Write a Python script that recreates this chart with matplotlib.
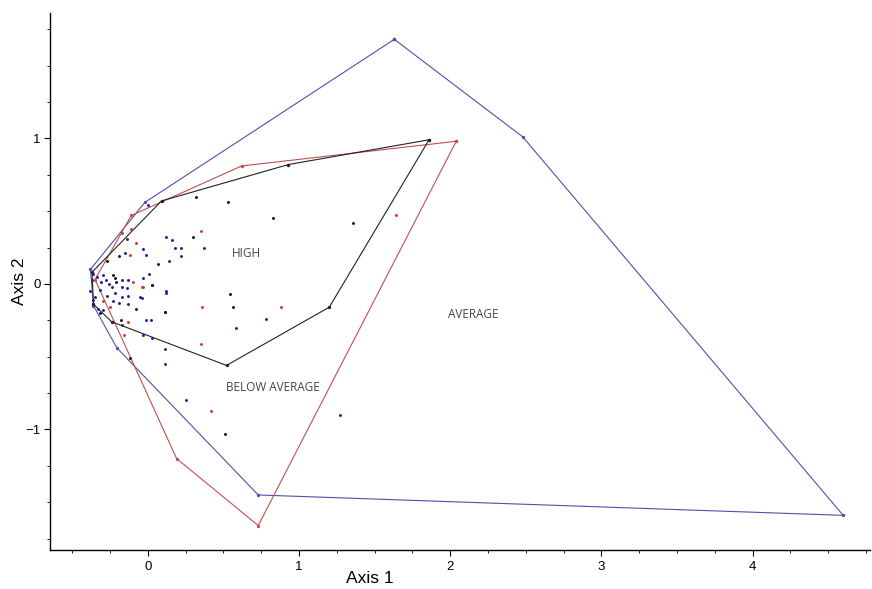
import numpy as np
import matplotlib.pyplot as plt
from matplotlib.ticker import MultipleLocator

# hull vertices (Axis 1, Axis 2) of each group, in drawing order
avg_hull_x = [1.63, 2.48, 4.60, 0.73, -0.205, -0.36, -0.38, -0.02]
avg_hull_y = [1.68, 1.01, -1.59, -1.45, -0.44, -0.15, 0.10, 0.56]
below_hull_x = [2.04, 0.73, 0.19, -0.35, -0.11, 0.62]
below_hull_y = [0.98, -1.66, -1.20, 0.03, 0.47, 0.81]
high_hull_x = [1.86, 1.20, 0.52, -0.24, -0.36, -0.37, 0.09, 0.93]
high_hull_y = [0.99, -0.16, -0.56, -0.26, -0.14, 0.08, 0.57, 0.82]

# sample scores
avg_x = [0.12, 0.16, 0.18, 0.22, 0.37, 0.22, 0.14, -0.03, -0.01, 0.01, -0.03, 0.03,
         0.12, 0.12, -0.04, 0.11, 0.78, 0.58, -0.01, 0.02, -0.03, 0.03, 0.11, 0.11,
         0.25, 1.27, 0.0, -0.14, -0.15, -0.36, -0.34, -0.37, -0.30, -0.28, -0.17,
         -0.13, -0.31, -0.26, -0.24, -0.32, -0.17, -0.14, -0.35, -0.27, -0.22, -0.17,
         -0.13, -0.05, -0.23, -0.19, -0.13, -0.33, -0.30, -0.17, -0.36, -0.38]
avg_y = [0.32, 0.30, 0.25, 0.25, 0.25, 0.19, 0.16, 0.24, 0.20, 0.07, 0.04, -0.01,
         -0.05, -0.06, -0.10, -0.19, -0.24, -0.30, -0.25, -0.25, -0.35, -0.37, -0.45,
         -0.55, -0.80, -0.90, 0.54, 0.31, 0.21, 0.07, 0.05, 0.03, 0.06, 0.03, 0.03,
         0.03, 0.01, 0.0, -0.02, -0.04, -0.02, -0.03, -0.09, -0.08, -0.06, -0.09,
         -0.08, -0.09, -0.12, -0.13, -0.14, -0.17, -0.18, -0.28, -0.11, -0.05]
below_x = [0.35, -0.03, 0.36, 0.88, 0.35, 0.42, 1.64, -0.11, -0.17, -0.08, -0.12,
           -0.10, -0.04, -0.30, -0.25, -0.13, -0.16]
below_y = [0.36, -0.02, -0.16, -0.16, -0.41, -0.87, 0.47, 0.38, 0.35, 0.28, 0.20,
           0.01, -0.02, -0.12, -0.16, -0.26, -0.35]
high_x = [0.32, 0.53, 0.83, 1.36, 0.30, 0.07, 0.54, 0.56, 0.51, -0.19, -0.27, -0.23,
          -0.22, -0.21, 0.03, -0.08, -0.32, -0.18, -0.12, 0.11]
high_y = [0.60, 0.56, 0.45, 0.42, 0.32, 0.14, -0.07, -0.16, -1.03, 0.19, 0.16, 0.06,
          0.04, 0.01, -0.01, -0.17, -0.20, -0.25, -0.51, -0.19]

blue = '#5050aa'
red = '#c0504d'
black = '#222222'

fig = plt.figure(figsize=(8.72, 5.89), dpi=100)
ax = fig.add_axes([0.0573, 0.0662, 0.940, 0.912])

for hx, hy, c in [(avg_hull_x, avg_hull_y, blue),
                  (below_hull_x, below_hull_y, red),
                  (high_hull_x, high_hull_y, black)]:
  ax.plot(hx + hx[:1], hy + hy[:1], color=c, lw=0.8, marker='o', ms=1.4)

ax.scatter(avg_x, avg_y, s=4.5, color='#1f1f9a', zorder=3, linewidths=0)
ax.scatter(below_x, below_y, s=4.5, color='#d03a2a', zorder=3, linewidths=0)
ax.scatter(high_x, high_y, s=4.5, color='#111111', zorder=3, linewidths=0)

lab = dict(fontsize=8.5, color='#444444', ha='center', va='center', family='Open Sans')
ax.text(0.65, 0.21, 'HIGH', **lab)
ax.text(2.15, -0.21, 'AVERAGE', **lab)
ax.text(0.83, -0.71, 'BELOW AVERAGE', **lab)

ax.set_xlim(-0.648, 4.775)
ax.set_ylim(-1.828, 1.862)
ax.xaxis.set_major_locator(MultipleLocator(1))
ax.xaxis.set_minor_locator(MultipleLocator(0.25))
ax.yaxis.set_major_locator(MultipleLocator(1))
ax.yaxis.set_minor_locator(MultipleLocator(0.25))
ax.tick_params(which='major', length=4, width=0.8, labelsize=9.5)
ax.tick_params(axis='x', which='major', pad=4)
ax.tick_params(axis='y', which='major', pad=2.5)
ax.tick_params(which='minor', length=2, width=0.6)
for t in ax.get_xticklabels() + ax.get_yticklabels():
  t.set_family('Liberation Sans')

for s in ['top', 'right']:
  ax.spines[s].set_visible(False)
for s in ['left', 'bottom']:
  ax.spines[s].set_linewidth(1.0)

ax.set_xlabel('Axis 1', fontsize=12.5, family='Liberation Sans')
ax.set_ylabel('Axis 2', fontsize=12.5, family='Liberation Sans')
ax.xaxis.set_label_coords((370 - 50) / 820, -0.04)
ax.yaxis.set_label_coords(-0.028, 0.5)

fig.savefig('out.png', dpi=100)
